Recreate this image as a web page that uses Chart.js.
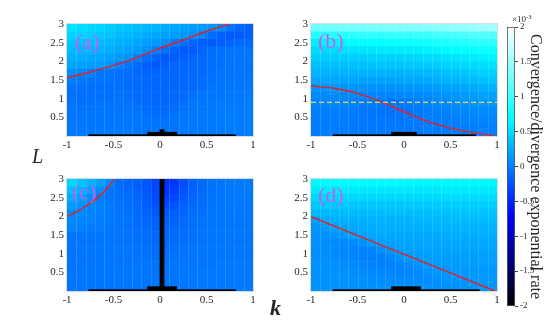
<!DOCTYPE html>
<html>
<head>
<meta charset="utf-8">
<script src="https://cdn.jsdelivr.net/npm/chart.js@4.4.1/dist/chart.umd.min.js"></script>
<style>
  html, body { margin: 0; padding: 0; background: #fff; }
  #fig { position: relative; width: 545px; height: 327px; overflow: hidden; }
  #fig canvas { position: absolute; }
  .lbl { position: absolute; font-family: "Liberation Serif", serif; color: #262626; line-height: 1; white-space: nowrap; }
  .lbl sup { font-size: 0.75em; vertical-align: 0.45em; }
</style>
</head>
<body>
<div id="fig">
  <canvas id="panelA" width="272" height="160" style="left:0;top:0"></canvas>
  <canvas id="panelB" width="272" height="160" style="left:244px;top:0"></canvas>
  <canvas id="panelC" width="272" height="160" style="left:0;top:155px"></canvas>
  <canvas id="panelD" width="272" height="160" style="left:244px;top:155px"></canvas>
  <canvas id="cbar" width="55" height="327" style="left:490px;top:0"></canvas>
  <span class="lbl" style="left:32px;top:146px;font-size:20px;font-style:italic">L</span>
  <span class="lbl" style="left:270px;top:297px;font-size:22px;font-style:italic;font-weight:bold">k</span>
  <span class="lbl" style="left:512px;top:14px;font-size:9px">×10<sup>-3</sup></span>
</div>

<script>
/* =========================
   DATA
========================= */
// cell centres of the (k, L) grid
const kCenters = [-0.95, -0.85, -0.75, -0.65, -0.55, -0.45, -0.35, -0.25, -0.15, -0.05,
                   0.05,  0.15,  0.25,  0.35,  0.45,  0.55,  0.65,  0.75,  0.85,  0.95];
const lCenters = [2.9, 2.7, 2.5, 2.3, 2.1, 1.9, 1.7, 1.5, 1.3, 1.1, 0.9, 0.7, 0.5, 0.3, 0.1];

const kTicks = [-1, -0.5, 0, 0.5, 1];
const lTicks = [0.5, 1, 1.5, 2, 2.5, 3];
const cbarTicks = [-2, -1.5, -1, -0.5, 0, 0.5, 1, 1.5, 2];

// convergence / divergence exponential rate (x 1e-3), rows from L = 2.9 down to 0.1
const rateA = [
  [ .55, .52, .49, .46, .43, .40, .37, .34, .31, .28, .25, .22, .19, .16, .13, .10, .05,-.06,-.12,-.16],
  [ .47, .45, .42, .40, .37, .34, .31, .28, .25, .22, .19, .16, .13, .09, .02,-.10,-.16,-.20,-.20,-.18],
  [ .40, .38, .36, .33, .31, .28, .25, .22, .18, .14, .08, .00,-.08,-.14,-.18,-.20,-.19,-.15,-.12,-.10],
  [ .33, .31, .29, .27, .25, .22, .19, .15, .10, .02,-.08,-.16,-.20,-.20,-.14,-.10,-.08,-.07,-.07,-.06],
  [ .27, .25, .23, .21, .19, .15, .10, .02,-.08,-.16,-.20,-.20,-.18,-.14,-.12,-.10,-.08,-.07,-.06,-.06],
  [ .21, .19, .17, .15, .12, .02,-.05,-.10,-.18,-.20,-.18,-.14,-.13,-.13,-.12,-.10,-.08,-.07,-.06,-.06],
  [ .08, .05, .00,-.05,-.07,-.08,-.10,-.13,-.15,-.15,-.14,-.14,-.13,-.13,-.12,-.09,-.07,-.06,-.06,-.06],
  [ .00,-.04,-.05,-.06,-.07,-.08,-.10,-.12,-.13,-.14,-.14,-.14,-.13,-.12,-.10,-.08,-.07,-.06,-.05,-.05],
  [-.07,-.08,-.08,-.08,-.08,-.08,-.10,-.12,-.13,-.14,-.14,-.14,-.13,-.12,-.09,-.07,-.06,-.05,-.05,-.04],
  [-.08,-.09,-.09,-.08,-.08,-.07,-.08,-.11,-.13,-.14,-.14,-.13,-.12,-.08,-.06,-.05,-.05,-.04,-.04,-.03],
  [-.07,-.08,-.08,-.07,-.07,-.06,-.07,-.09,-.12,-.13,-.13,-.12,-.09,-.06,-.05,-.04,-.04,-.03,-.03,-.02],
  [-.06,-.07,-.07,-.06,-.06,-.06,-.06,-.07,-.10,-.12,-.12,-.10,-.07,-.05,-.04,-.04,-.03,-.03,-.02,-.02],
  [-.05,-.06,-.06,-.05,-.05,-.05,-.05,-.06,-.07,-.09,-.09,-.07,-.05,-.04,-.04,-.03,-.03,-.02,-.02,-.01],
  [-.04,-.05,-.05,-.05,-.05,-.05,-.05,-.05,-.05,-.06,-.06,-.05,-.04,-.04,-.03,-.03,-.03,-.02,-.02,-.01],
  [-.04,-.04,-.04,-.04,-.04,-.04,-.04,-.04,-.05,-.05,-.05,-.05,-.04,-.04,-.03,-.03,-.03,-.02,-.02,-.01]
];

const rateB = [
  [1.25,1.26,1.27,1.28,1.29,1.30,1.31,1.32,1.33,1.34,1.35,1.36,1.38,1.40,1.42,1.44,1.46,1.48,1.50,1.52],
  [ .88, .89, .90, .91, .92, .93, .94, .95, .96, .97, .98, .99,1.00,1.02,1.04,1.06,1.08,1.10,1.12,1.14],
  [ .62, .63, .64, .66, .67, .69, .70, .72, .73, .75, .76, .78, .80, .82, .84, .86, .88, .90, .92, .94],
  [ .50, .51, .52, .53, .54, .55, .56, .57, .58, .59, .60, .61, .63, .65, .67, .69, .71, .73, .75, .77],
  [ .42, .42, .43, .43, .44, .44, .45, .45, .46, .47, .48, .49, .50, .52, .54, .56, .58, .60, .62, .64],
  [ .35, .35, .35, .35, .36, .36, .36, .37, .37, .38, .39, .40, .41, .43, .45, .47, .49, .50, .52, .54],
  [ .28, .28, .28, .28, .28, .28, .28, .28, .29, .29, .30, .31, .32, .34, .36, .38, .40, .42, .44, .46],
  [ .21, .21, .21, .21, .21, .20, .20, .20, .20, .21, .22, .23, .24, .26, .28, .30, .32, .34, .36, .38],
  [ .12, .12, .12, .11, .11, .10, .10, .10, .10, .11, .12, .13, .14, .16, .18, .20, .22, .24, .26, .28],
  [ .06, .06, .06, .05, .05, .04, .03, .03, .03, .04, .05, .06, .07, .09, .11, .13, .15, .17, .19, .20],
  [ .02, .02, .02, .01, .00,-.01,-.03,-.05,-.06,-.05,-.03,-.01, .01, .03, .05, .07, .09, .11, .12, .13],
  [ .00, .00, .00,-.01,-.02,-.04,-.06,-.08,-.08,-.07,-.05,-.03,-.01, .01, .03, .04, .05, .06, .07, .08],
  [-.01,-.01,-.01,-.02,-.03,-.04,-.05,-.06,-.06,-.05,-.04,-.03,-.02,-.01, .00, .01, .02, .03, .04, .04],
  [-.02,-.02,-.02,-.02,-.03,-.03,-.04,-.04,-.04,-.04,-.03,-.03,-.02,-.02,-.01,-.01, .00, .00, .01, .01],
  [-.02,-.02,-.02,-.02,-.03,-.03,-.03,-.03,-.03,-.03,-.03,-.03,-.02,-.02,-.02,-.01,-.01, .00, .00, .00]
];

const rateC = [
  [ .48, .38, .28, .18, .08,-.10,-.14,-.18,-.24,-.32,-.45,-.40,-.28,-.18,-.12,-.08,-.06,-.04,-.03,-.02],
  [ .36, .28, .18, .08,-.05,-.08,-.12,-.16,-.22,-.30,-.42,-.36,-.25,-.16,-.11,-.08,-.06,-.04,-.03,-.03],
  [ .26, .18, .08,-.02,-.05,-.08,-.10,-.14,-.20,-.28,-.36,-.30,-.20,-.14,-.10,-.07,-.05,-.04,-.04,-.04],
  [ .16, .10, .06, .02,-.02,-.06,-.09,-.12,-.18,-.24,-.30,-.25,-.17,-.12,-.09,-.07,-.05,-.04,-.04,-.04],
  [ .08, .06, .04, .00,-.03,-.06,-.08,-.11,-.15,-.20,-.23,-.19,-.14,-.10,-.08,-.06,-.05,-.05,-.04,-.04],
  [ .05, .04, .02,-.01,-.03,-.05,-.07,-.10,-.13,-.16,-.18,-.16,-.12,-.09,-.07,-.06,-.05,-.05,-.05,-.05],
  [ .02, .01,-.01,-.03,-.04,-.06,-.07,-.09,-.11,-.14,-.15,-.13,-.10,-.08,-.07,-.06,-.05,-.05,-.05,-.05],
  [-.05,-.05,-.05,-.05,-.06,-.06,-.07,-.08,-.10,-.12,-.13,-.12,-.09,-.08,-.07,-.06,-.05,-.05,-.05,-.05],
  [-.06,-.06,-.06,-.06,-.06,-.06,-.07,-.08,-.09,-.11,-.12,-.10,-.09,-.07,-.06,-.05,-.05,-.05,-.05,-.05],
  [-.06,-.06,-.06,-.06,-.06,-.06,-.06,-.07,-.08,-.10,-.10,-.09,-.07,-.06,-.05,-.05,-.05,-.05,-.05,-.05],
  [-.06,-.06,-.06,-.06,-.06,-.06,-.06,-.06,-.07,-.08,-.08,-.07,-.06,-.05,-.05,-.05,-.05,-.05,-.05,-.05],
  [-.06,-.06,-.06,-.06,-.06,-.06,-.06,-.06,-.06,-.07,-.07,-.06,-.05,-.05,-.05,-.05,-.04,-.04,-.04,-.04],
  [-.06,-.06,-.06,-.06,-.06,-.05,-.05,-.05,-.05,-.06,-.06,-.05,-.05,-.05,-.04,-.04,-.04,-.04,-.04,-.04],
  [-.05,-.05,-.05,-.05,-.05,-.05,-.05,-.05,-.05,-.05,-.05,-.05,-.05,-.04,-.04,-.04,-.04,-.04,-.04,-.04],
  [-.05,-.05,-.05,-.05,-.05,-.05,-.05,-.05,-.05,-.05,-.05,-.05,-.05,-.04,-.04,-.04,-.04,-.04,-.04,-.04]
];

const rateD = [
  [ .68, .68, .68, .68, .68, .68, .67, .67, .67, .67, .66, .66, .66, .66, .66, .66, .66, .66, .66, .66],
  [ .58, .58, .58, .58, .58, .57, .57, .57, .57, .57, .57, .57, .57, .57, .58, .58, .58, .58, .58, .58],
  [ .48, .48, .48, .48, .48, .48, .48, .48, .48, .48, .48, .49, .49, .49, .50, .50, .50, .50, .50, .50],
  [ .40, .40, .40, .40, .40, .40, .40, .40, .40, .40, .41, .41, .41, .42, .42, .43, .43, .43, .43, .43],
  [ .32, .32, .32, .33, .33, .33, .33, .33, .34, .34, .34, .35, .35, .36, .36, .37, .37, .37, .37, .37],
  [ .18, .22, .26, .27, .27, .27, .28, .28, .28, .29, .29, .30, .30, .31, .31, .32, .32, .32, .32, .32],
  [ .12, .14, .20, .23, .24, .24, .25, .25, .25, .26, .26, .27, .27, .28, .28, .28, .29, .29, .29, .29],
  [ .10, .10, .11, .14, .18, .20, .21, .22, .22, .23, .23, .23, .24, .24, .25, .25, .25, .26, .26, .26],
  [ .09, .08, .07, .06, .06, .10, .15, .18, .19, .20, .20, .21, .21, .21, .22, .22, .22, .23, .23, .23],
  [ .09, .08, .07, .04, .02, .01, .02, .08, .14, .17, .18, .18, .19, .19, .19, .20, .20, .20, .20, .20],
  [ .09, .09, .08, .06, .03, .01, .00, .00, .04, .10, .14, .16, .16, .17, .17, .17, .18, .18, .18, .18],
  [ .10, .09, .09, .08, .06, .04, .02, .00, .00, .03, .08, .12, .14, .15, .15, .15, .16, .16, .16, .16],
  [ .10, .10, .10, .09, .08, .07, .06, .05, .04, .03, .04, .06, .10, .12, .13, .14, .14, .14, .14, .14],
  [ .10, .10, .10, .10, .09, .09, .08, .08, .07, .07, .07, .07, .07, .09, .11, .12, .12, .13, .13, .13],
  [ .10, .10, .10, .10, .10, .10, .09, .09, .09, .09, .09, .09, .09, .09, .09, .10, .11, .11, .12, .12]
];

// diverged cells (rate at the -2 floor): [k from, k to, L from, L to]
const divergedA = [[-0.77, 0.816, 0, 0.045], [-0.137, 0.183, 0, 0.11], [-0.004, 0.047, 0, 0.18]];
const divergedB = [[-0.767, 0.774, 0, 0.045], [-0.138, 0.138, 0, 0.11]];
const divergedC = [[-0.77, 0.816, 0, 0.045], [-0.137, 0.183, 0, 0.125], [-0.004, 0.047, 0, 3]];
const divergedD = [[-0.767, 0.813, 0, 0.045], [-0.138, 0.181, 0, 0.125]];

// red boundary curves
const curveAk = [-1, -0.8, -0.55, -0.27, 0, 0.3, 0.5, 0.75];
const curveAL = [1.56, 1.68, 1.85, 2.08, 2.35, 2.62, 2.8, 3.0];
const curveBk = [-1, -0.75, -0.5, -0.25, 0, 0.25, 0.5, 0.75, 0.97];
const curveBL = [1.34, 1.28, 1.14, 0.92, 0.65, 0.39, 0.21, 0.09, 0.0];
const curveCk = [-1, -0.9, -0.8, -0.7, -0.6, -0.55, -0.5];
const curveCL = [2.0, 2.12, 2.27, 2.44, 2.66, 2.8, 2.98];
const curveDk = [-1, 0.98];
const curveDL = [1.99, 0.0];
// dashed level in (b)
const levelBk = [-1, 1];
const levelBL = [0.9, 0.9];

// colormap: black -> blue -> cyan -> white
const cmapValues = [-2, -0.7, 0.7, 2];
const cmapColors = [[0, 0, 0], [0, 0, 255], [0, 255, 255], [255, 255, 255]];


/* =========================
   HELPERS
========================= */
const FONT = "'Liberation Serif', 'Times New Roman', serif";
const AXIS_COLOR = "#262626";

function colorFor(v) {
  const n = cmapValues.length;
  if (v <= cmapValues[0]) return `rgb(${cmapColors[0].join(",")})`;
  if (v >= cmapValues[n - 1]) return `rgb(${cmapColors[n - 1].join(",")})`;
  for (let i = 0; i < n - 1; i++) {
    if (v <= cmapValues[i + 1]) {
      const t = (v - cmapValues[i]) / (cmapValues[i + 1] - cmapValues[i]);
      const c = cmapColors[i].map((a, j) => Math.round(a + (cmapColors[i + 1][j] - a) * t));
      return `rgb(${c.join(",")})`;
    }
  }
}

function xy(ks, ls) {
  return ks.map((k, i) => ({ x: k, y: ls[i] }));
}

// plain number labels: "3", "2.5", "-1"
const plainLabel = v => String(v);

// pcolor-like cells, drawn under the curves
const heatPlugin = {
  id: "heat",
  beforeDatasetsDraw(chart, args, opts) {
    const { ctx, chartArea: a, scales: { x, y } } = chart;
    const hk = (kCenters[1] - kCenters[0]) / 2;
    const hl = (lCenters[0] - lCenters[1]) / 2;

    ctx.save();
    ctx.beginPath();
    ctx.rect(a.left, a.top, a.width, a.height);
    ctx.clip();

    opts.grid.forEach((row, r) => {
      row.forEach((v, c) => {
        const x0 = x.getPixelForValue(kCenters[c] - hk);
        const x1 = x.getPixelForValue(kCenters[c] + hk);
        const y0 = y.getPixelForValue(lCenters[r] + hl);
        const y1 = y.getPixelForValue(lCenters[r] - hl);
        ctx.fillStyle = colorFor(v);
        ctx.fillRect(x0, y0, x1 - x0 + 0.6, y1 - y0 + 0.6);
      });
    });

    // faint seams between columns
    ctx.strokeStyle = "rgba(255,255,255,0.12)";
    ctx.lineWidth = 1;
    kCenters.slice(1).forEach(k => {
      const px = Math.round(x.getPixelForValue(k - hk)) + 0.5;
      ctx.beginPath();
      ctx.moveTo(px, a.top);
      ctx.lineTo(px, a.bottom);
      ctx.stroke();
    });

    ctx.fillStyle = colorFor(-2);
    (opts.diverged || []).forEach(([k0, k1, l0, l1]) => {
      const x0 = x.getPixelForValue(k0), x1 = x.getPixelForValue(k1);
      const y0 = y.getPixelForValue(l1), y1 = y.getPixelForValue(l0);
      ctx.fillRect(x0, y0, x1 - x0, y1 - y0);
    });
    ctx.restore();

    // light axes box
    ctx.save();
    ctx.strokeStyle = "rgba(215,215,215,0.9)";
    ctx.lineWidth = 1;
    ctx.strokeRect(Math.round(a.left) - 0.5, Math.round(a.top) - 0.5, Math.round(a.width) + 1, Math.round(a.height) + 1);
    ctx.restore();
  },
  afterDraw(chart, args, opts) {
    if (!opts.letter) return;
    const { ctx, chartArea: a } = chart;
    ctx.save();
    ctx.font = `22px ${FONT}`;
    ctx.fillStyle = "rgb(195,95,235)";
    ctx.textBaseline = "middle";
    ctx.fillText(opts.letter, a.left + opts.dx, a.top + opts.dy);
    ctx.restore();
  }
};

function lineSet(ks, ls, color, dash) {
  return {
    data: xy(ks, ls),
    showLine: true,
    pointRadius: 0,
    borderColor: color,
    borderWidth: 1.4,
    borderDash: dash || [],
    cubicInterpolationMode: "monotone"
  };
}

function panelConfig(grid, diverged, datasets, letter, dx, dy) {
  return {
    type: "scatter",
    data: { datasets },
    options: {
      responsive: false,
      animation: false,
      events: [],
      layout: { padding: { left: 0, top: 24, right: 19, bottom: 0 } },
      plugins: {
        legend: { display: false },
        tooltip: { enabled: false },
        heat: { grid, diverged, letter, dx, dy }
      },
      scales: {
        x: {
          type: "linear", min: -1, max: 1,
          grid: { display: false, drawTicks: false },
          border: { display: false },
          afterBuildTicks: s => { s.ticks = kTicks.map(v => ({ value: v })); },
          ticks: { padding: 3, color: AXIS_COLOR, maxRotation: 0, autoSkip: false,
                   callback: plainLabel, font: { family: FONT, size: 11 } },
          afterFit: s => { s.height = 24; }
        },
        y: {
          type: "linear", min: 0, max: 3,
          grid: { display: false, drawTicks: false },
          border: { display: false },
          afterBuildTicks: s => { s.ticks = lTicks.map(v => ({ value: v })); },
          ticks: { padding: 3, color: AXIS_COLOR, autoSkip: false,
                   callback: plainLabel, font: { family: FONT, size: 11 } },
          afterFit: s => { s.width = 67; }
        }
      }
    },
    plugins: [heatPlugin]
  };
}


/* =========================
   PANELS
========================= */
(function initPanels() {
  const RED = "rgb(235,30,30)";

  new Chart(document.getElementById("panelA"),
    panelConfig(rateA, divergedA, [lineSet(curveAk, curveAL, RED)], "(a)", 8, 19));

  new Chart(document.getElementById("panelB"),
    panelConfig(rateB, divergedB, [
      lineSet(levelBk, levelBL, "rgb(215,225,80)", [5, 3]),
      lineSet(curveBk, curveBL, RED)
    ], "(b)", 7, 18));

  new Chart(document.getElementById("panelC"),
    panelConfig(rateC, divergedC, [lineSet(curveCk, curveCL, RED)], "(c)", 5, 14));

  new Chart(document.getElementById("panelD"),
    panelConfig(rateD, divergedD, [lineSet(curveDk, curveDL, RED)], "(d)", 7, 17));
})();


/* =========================
   COLORBAR
========================= */
(function initColorbar() {
  const gradientPlugin = {
    id: "cbarFill",
    beforeDatasetsDraw(chart) {
      const { ctx, chartArea: a, scales: { y } } = chart;
      const g = ctx.createLinearGradient(0, y.getPixelForValue(-2), 0, y.getPixelForValue(2));
      cmapValues.forEach((v, i) => {
        g.addColorStop((v - cmapValues[0]) / (cmapValues[cmapValues.length - 1] - cmapValues[0]),
          `rgb(${cmapColors[i].join(",")})`);
      });
      ctx.save();
      ctx.fillStyle = g;
      ctx.fillRect(a.left, a.top, a.width, a.height);
      ctx.strokeStyle = "#555";
      ctx.lineWidth = 0.8;
      ctx.strokeRect(a.left + 0.4, a.top + 0.4, a.width - 0.8, a.height - 0.8);
      ctx.restore();
    }
  };

  new Chart(document.getElementById("cbar"), {
    type: "scatter",
    data: { datasets: [] },
    options: {
      responsive: false,
      animation: false,
      events: [],
      layout: { padding: { left: 17, top: 27, right: 0, bottom: 21 } },
      plugins: { legend: { display: false }, tooltip: { enabled: false } },
      scales: {
        x: { display: false, min: 0, max: 1 },
        y: {
          position: "right", min: -2, max: 2,
          grid: { display: true, drawOnChartArea: false, drawTicks: true, tickLength: 3, color: "#444" },
          border: { display: false },
          afterBuildTicks: s => { s.ticks = cbarTicks.map(v => ({ value: v })); },
          ticks: { padding: 2, color: AXIS_COLOR, autoSkip: false,
                   callback: plainLabel, font: { family: FONT, size: 9 } },
          title: {
            display: true,
            text: "Convergence/divergence exponential rate",
            color: AXIS_COLOR,
            padding: 0,
            font: { family: FONT, size: 16 }
          },
          afterFit: s => { s.width = 30; }
        }
      }
    },
    plugins: [gradientPlugin]
  });
})();
</script>
</body>
</html>
